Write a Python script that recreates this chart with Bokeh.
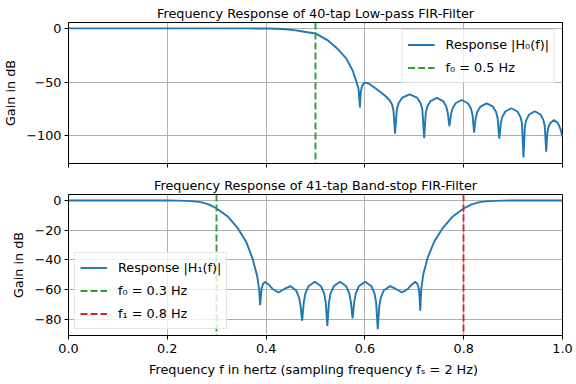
from bokeh.plotting import figure
from bokeh.layouts import column
from bokeh.models import FixedTicker, CustomJSTickFormatter, Range1d
from bokeh.embed import file_html
from bokeh.resources import INLINE

# ---------------- data ----------------
# 40-tap low-pass FIR filter: gain in dB vs frequency in Hz
f_lowpass = [0.0, 0.1, 0.2, 0.3, 0.36, 0.40, 0.42, 0.44, 0.457, 0.477, 0.50,
             0.524, 0.544, 0.562, 0.575, 0.583, 0.587, 0.590,
             0.5915, 0.594, 0.598, 0.602, 0.610, 0.622, 0.632, 0.642, 0.650, 0.655, 0.658, 0.661,
             0.6647, 0.6684, 0.6758, 0.6905, 0.7053, 0.7126, 0.7163, 0.720,
             0.7232, 0.7264, 0.7328, 0.7455, 0.7583, 0.7646, 0.7678, 0.771,
             0.7741, 0.7773, 0.7835, 0.796, 0.8085, 0.8148, 0.8179, 0.821,
             0.8242, 0.8274, 0.8338, 0.8465, 0.8593, 0.8656, 0.8688, 0.872,
             0.8751, 0.8781, 0.8843, 0.8965, 0.9088, 0.9149, 0.9179, 0.921,
             0.9239, 0.9268, 0.9325, 0.944, 0.9555, 0.9613, 0.9641, 0.967,
             0.969, 0.971, 0.975, 0.983, 0.991, 0.996, 1.0]
gain_lowpass = [0.0, 0.0, 0.0, 0.0, 0.0, -0.1, -0.3, -0.8, -1.6, -3.1, -4.7,
                -10.9, -18.7, -28.0, -39.0, -49.9, -56.0, -73.8,
                -60.0, -54.0, -51.0, -50.5, -52.0, -56.1, -59.5, -63.3, -67.0, -71.0, -77.0, -98.1,
                -75.5, -69.5, -64.5, -61.5, -64.5, -69.5, -75.5, -102.5,
                -78.8, -72.8, -67.8, -64.8, -67.8, -72.8, -78.8, -91.2,
                -80.8, -74.8, -69.8, -66.8, -69.8, -74.8, -80.8, -97.2,
                -84.0, -78.0, -73.0, -70.0, -73.0, -78.0, -84.0, -102.8,
                -88.5, -82.5, -77.5, -74.5, -77.5, -82.5, -88.5, -120.3,
                -91.3, -85.3, -80.3, -77.3, -80.3, -85.3, -91.3, -115.0,
                -99.0, -93.0, -88.5, -85.5, -88.5, -94.0, -101.0]

# 41-tap band-stop FIR filter: gain in dB vs frequency in Hz
f_bandstop = [0.0, 0.1, 0.2, 0.22, 0.24, 0.26, 0.27, 0.285, 0.30, 0.323, 0.343, 0.36,
              0.373, 0.382, 0.386, 0.388,
              0.3895, 0.391, 0.394, 0.398, 0.405, 0.413, 0.425, 0.437, 0.449, 0.461, 0.467, 0.470, 0.473,
              0.4762, 0.4794, 0.4858, 0.4985, 0.5113, 0.5176, 0.5208, 0.524,
              0.5272, 0.5304, 0.5368, 0.5495, 0.5623, 0.5686, 0.5718, 0.575,
              0.5782, 0.5814, 0.5878, 0.6005, 0.6133, 0.6196, 0.6228, 0.626,
              0.629, 0.632, 0.638, 0.651, 0.663, 0.675, 0.687, 0.695, 0.702, 0.706, 0.709, 0.7105, 0.712,
              0.714, 0.718, 0.727, 0.74, 0.757, 0.777, 0.80, 0.815, 0.83, 0.84, 0.86, 0.88, 0.9, 1.0]
gain_bandstop = [0.0, 0.0, 0.0, -0.1, -0.3, -0.8, -1.3, -2.8, -5.4, -11.0, -18.8, -28.0,
                 -39.5, -51.0, -60.0, -70.4,
                 -64.0, -59.0, -56.0, -54.7, -56.5, -59.5, -61.9, -59.5, -57.6, -60.6, -65.6, -71.6, -80.9,
                 -68.7, -62.7, -57.7, -54.7, -57.7, -62.7, -68.7, -84.3,
                 -68.7, -62.7, -57.7, -54.7, -57.7, -62.7, -68.7, -79.3,
                 -68.7, -62.7, -57.7, -54.7, -57.7, -62.7, -68.7, -86.5,
                 -71.6, -65.6, -60.6, -57.6, -59.5, -61.9, -59.5, -56.5, -54.7, -56.0, -59.0, -64.0, -74.2,
                 -60.0, -50.0, -38.5, -28.0, -18.8, -11.0, -5.4, -2.8, -1.3, -0.8, -0.3, -0.1, 0.0, 0.0]

lowpass_cutoff = [0.5]
bandstop_cutoffs = [0.3, 0.8]

x_ticks = [0.0, 0.2, 0.4, 0.6, 0.8, 1.0]
lowpass_y_ticks = [0, -50, -100]
bandstop_y_ticks = [0, -20, -40, -60, -80]
x_limits = (0.0, 1.0)
lowpass_y_limits = (-126.0, 5.5)
bandstop_y_limits = (-90.8, 4.0)

# ---------------- styling ----------------
FONT = "DejaVu Sans"
FS = "12.8px"
BLUE = "#1f77b4"
GREEN = "#2ca02c"
RED = "#d62728"

y_fmt = CustomJSTickFormatter(code="return tick < 0 ? '\u2212' + (-tick) : '' + tick;")
x_fmt = CustomJSTickFormatter(code="return tick.toFixed(1);")


def style(p, yticks, show_xlabels):
    p.title.align = "center"
    p.title.vertical_align = "top"
    p.title.text_font = FONT
    p.title.text_font_size = FS
    p.title.text_font_style = "normal"
    p.title.text_color = "black"
    p.title.standoff = 0
    p.outline_line_color = "black"
    p.outline_line_width = 1
    p.outline_line_alpha = 1
    for ax in (p.xaxis[0], p.yaxis[0]):
        ax.axis_line_color = "black"
        ax.major_tick_line_color = "black"
        ax.major_tick_out = 4
        ax.major_tick_in = 0
        ax.minor_tick_line_color = None
        ax.major_label_text_font = FONT
        ax.major_label_text_font_size = FS
        ax.major_label_text_color = "black"
        ax.axis_label_text_font = FONT
        ax.axis_label_text_font_size = FS
        ax.axis_label_text_font_style = "normal"
        ax.axis_label_text_color = "black"
        ax.major_label_standoff = 3
    p.xaxis.ticker = FixedTicker(ticks=x_ticks)
    p.xaxis.formatter = x_fmt
    p.xaxis.major_label_standoff = 4
    p.yaxis.ticker = FixedTicker(ticks=yticks)
    p.yaxis.formatter = y_fmt
    p.yaxis.axis_label = "Gain in dB"
    p.yaxis.axis_label_standoff = 5
    if not show_xlabels:
        p.xaxis.major_label_text_font_size = "0px"
        p.xaxis.major_label_text_color = None
        p.xaxis.major_label_standoff = 0
    for g in (p.xgrid[0], p.ygrid[0]):
        g.grid_line_color = "#b0b0b0"
        g.grid_line_width = 1
    p.xgrid.ticker = FixedTicker(ticks=x_ticks)
    p.ygrid.ticker = FixedTicker(ticks=yticks)


def style_legend(lg):
    lg.label_text_font = FONT
    lg.label_text_font_size = FS
    lg.label_text_color = "black"
    lg.glyph_width = 27
    lg.glyph_height = 19
    lg.label_height = 19
    lg.label_standoff = 11
    lg.spacing = 4
    lg.padding = 5
    lg.border_line_color = "#cccccc"
    lg.border_line_width = 1
    lg.background_fill_alpha = 0.8


x_range = Range1d(*x_limits)

top = figure(width=574, height=172, x_range=x_range, y_range=Range1d(*lowpass_y_limits),
             output_backend="svg", toolbar_location=None,
             title="Frequency Response of 40-tap Low-pass FIR-Filter",
             min_border_left=67, min_border_right=12, min_border_top=22, min_border_bottom=9)
style(top, lowpass_y_ticks, False)
top.line(f_lowpass, gain_lowpass, line_color=BLUE, line_width=1.9,
         legend_label="Response |H\u2080(f)|")
top.vspan(x=lowpass_cutoff, line_color=GREEN, line_width=1.9, line_dash="7 3",
          legend_label="f\u2080 = 0.5 Hz")
top.legend.location = "top_right"
top.legend.margin = 7
style_legend(top.legend[0])

bot = figure(width=574, height=208, x_range=x_range, y_range=Range1d(*bandstop_y_limits),
             output_backend="svg", toolbar_location=None,
             title="Frequency Response of 41-tap Band-stop FIR-Filter",
             min_border_left=67, min_border_right=12, min_border_top=22, min_border_bottom=45)
style(bot, bandstop_y_ticks, True)
bot.xaxis.axis_label = "Frequency f  in hertz (sampling frequency f\u209b = 2 Hz)"
bot.xaxis.axis_label_standoff = 6
bot.line(f_bandstop, gain_bandstop, line_color=BLUE, line_width=1.9,
         legend_label="Response |H\u2081(f)|")
bot.vspan(x=bandstop_cutoffs[:1], line_color=GREEN, line_width=1.9, line_dash="7 3",
          legend_label="f\u2080 = 0.3 Hz")
bot.vspan(x=bandstop_cutoffs[1:], line_color=RED, line_width=1.9, line_dash="7 3",
          legend_label="f\u2081 = 0.8 Hz")
bot.legend.location = "bottom_left"
bot.legend.margin = 6
style_legend(bot.legend[0])

layout = column(top, bot, spacing=0)
open("out.html", "w").write(file_html(layout, INLINE))
